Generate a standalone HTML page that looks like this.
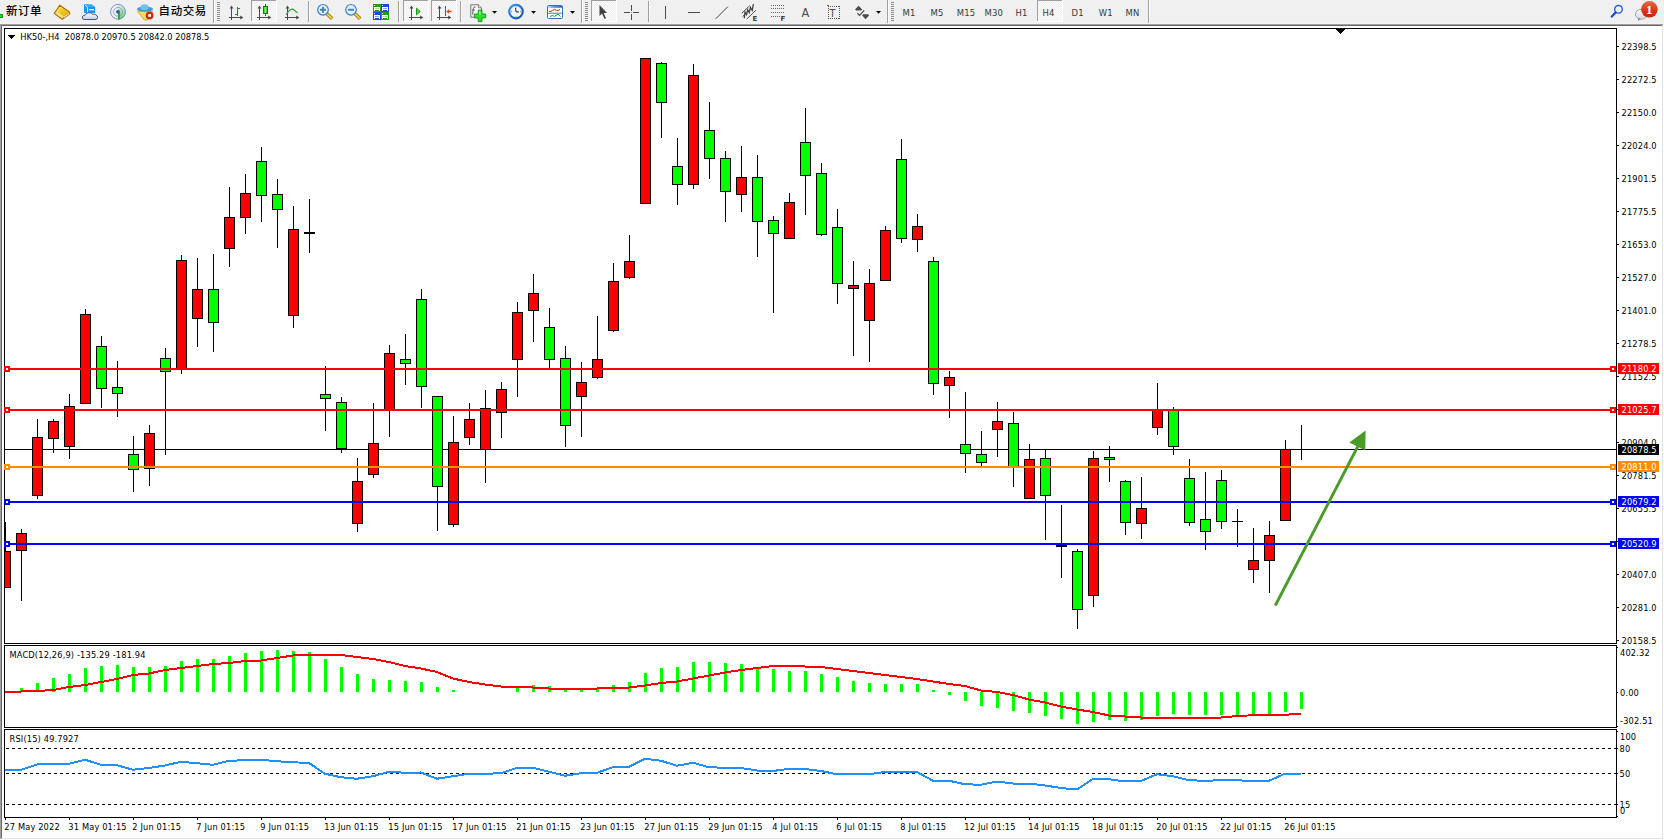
<!DOCTYPE html>
<html><head><meta charset="utf-8"><title>HK50-,H4</title>
<style>
html,body{margin:0;padding:0;}
body{width:1664px;height:840px;overflow:hidden;background:#f0f0f0;position:relative;font-family:"Liberation Sans",Arial,sans-serif;}
.cjk{position:absolute;top:2.7px;font-family:"Liberation Sans","Noto Sans CJK SC",sans-serif;font-size:11.5px;letter-spacing:0.55px;line-height:16px;color:#000;white-space:nowrap;font-weight:500;}
</style></head><body>
<svg width="1664" height="24" viewBox="0 0 1664 24" style="position:absolute;left:0;top:0" shape-rendering="crispEdges"><defs><pattern id="dith" width="2" height="2" patternUnits="userSpaceOnUse"><rect width="2" height="2" fill="#f0f0f0"/><rect width="1" height="1" fill="#fafafa"/><rect x="1" y="1" width="1" height="1" fill="#fafafa"/></pattern></defs><rect x="0" y="14" width="3" height="4" fill="#14a014"/><rect x="0" y="15" width="2" height="2" fill="#28d028"/><defs><linearGradient id="gbook" x1="0" y1="0" x2="1" y2="1"><stop offset="0" stop-color="#fff2a0"/><stop offset="0.45" stop-color="#f2c81c"/><stop offset="1" stop-color="#d89a08"/></linearGradient><linearGradient id="gcloud" x1="0" y1="0" x2="0" y2="1"><stop offset="0" stop-color="#ffffff"/><stop offset="1" stop-color="#c4cde0"/></linearGradient><linearGradient id="gsig" x1="0" y1="0" x2="0" y2="1"><stop offset="0" stop-color="#e4f0e4"/><stop offset="1" stop-color="#60c060"/></linearGradient></defs><g shape-rendering="auto"><polygon points="59.6,5.2 68.8,11.4 69.8,13.8 62.3,19.4 54.2,13.4 57.2,9" fill="url(#gbook)" stroke="#a86a0c" stroke-width="1.1" stroke-linejoin="round"/><polygon points="55.6,13.2 62.2,17.9 63.6,16.6 57.2,12" fill="#f8e4a0"/><polygon points="64.5,16.3 68.8,13 69.3,14 63.8,18" fill="#efe0b0"/></g><g shape-rendering="auto"><polygon points="84,4.5 91.5,4.5 95.2,7 95.2,13 84,13" fill="#1896f0"/><polygon points="84,4.5 91.5,4.5 95.2,7 87.5,7" fill="#3aaaf8"/><line x1="85" y1="5.2" x2="87.6" y2="7.2" stroke="#e8f6ff" stroke-width="0.9"/><line x1="87.6" y1="7.2" x2="87.6" y2="12.5" stroke="#e8f6ff" stroke-width="0.9"/><rect x="89.3" y="9" width="4.8" height="1.3" fill="#f0faff"/><path d="M84.2,19.5 Q82,19.4 82.3,17 Q82.8,15 85.2,15.2 Q86,12.6 89.5,12.7 Q91.6,12.8 92.6,14.3 Q94,13.6 95.4,14.6 Q97.8,15.6 97.6,17.6 Q97.4,19.5 95,19.5 Z" fill="url(#gcloud)" stroke="#3a5690" stroke-width="1"/></g><g shape-rendering="auto" fill="none"><path d="M118,4 A7.8,7.8 0 0 1 118,19.6 Z" fill="url(#gsig)" opacity="0.85"/><circle cx="118" cy="11.8" r="7.4" stroke="#4a78d0" stroke-width="1" opacity="0.75"/><circle cx="118" cy="11.8" r="4.4" stroke="#6a8cd4" stroke-width="1" opacity="0.7"/><circle cx="118" cy="11.8" r="1.9" fill="#2050c8"/><rect x="118.2" y="12" width="1.5" height="7.6" fill="#18a018"/></g><g shape-rendering="auto"><polygon points="137.5,11.2 152.5,11.2 147.5,20 144.5,20.2" fill="#f6dc58" stroke="#c9a022" stroke-width="0.8" stroke-linejoin="round"/><ellipse cx="145" cy="9.2" rx="8" ry="2.6" fill="#3b9ed4"/><ellipse cx="144.6" cy="7.2" rx="4.1" ry="3" fill="#72c2ea"/><circle cx="149.6" cy="15.5" r="3.9" fill="#d42c12"/><rect x="148.2" y="14.1" width="2.8" height="2.8" fill="#fff"/></g><rect x="213" y="0" width="1" height="23" fill="#a0a0a0"/><rect x="214" y="0" width="1" height="23" fill="#fff"/><rect x="217" y="2" width="3" height="1" fill="#8c8c8c"/><rect x="217" y="4" width="3" height="1" fill="#8c8c8c"/><rect x="217" y="6" width="3" height="1" fill="#8c8c8c"/><rect x="217" y="8" width="3" height="1" fill="#8c8c8c"/><rect x="217" y="10" width="3" height="1" fill="#8c8c8c"/><rect x="217" y="12" width="3" height="1" fill="#8c8c8c"/><rect x="217" y="14" width="3" height="1" fill="#8c8c8c"/><rect x="217" y="16" width="3" height="1" fill="#8c8c8c"/><rect x="217" y="18" width="3" height="1" fill="#8c8c8c"/><rect x="217" y="20" width="3" height="1" fill="#8c8c8c"/><rect x="231" y="7" width="1" height="13" fill="#4a4a4a"/><rect x="229" y="17" width="13" height="1" fill="#4a4a4a"/><g shape-rendering="auto" fill="#4a4a4a"><polygon points="229.6,8.6 231.5,5.6 233.4,8.6"/><polygon points="240.2,15.4 243.4,17.5 240.2,19.6"/></g><rect x="237" y="7" width="1" height="9" fill="#149014"/><rect x="238" y="8" width="2" height="1" fill="#149014"/><rect x="235" y="14" width="2" height="1" fill="#149014"/><rect x="251" y="0" width="26" height="22" fill="url(#dith)"/><rect x="251" y="0" width="26" height="1" fill="#a0a0a0"/><rect x="251" y="0" width="1" height="22" fill="#a0a0a0"/><rect x="276" y="0" width="1" height="22" fill="#fff"/><rect x="251" y="21" width="26" height="1" fill="#fff"/><rect x="259" y="7" width="1" height="13" fill="#4a4a4a"/><rect x="257" y="17" width="13" height="1" fill="#4a4a4a"/><g shape-rendering="auto" fill="#4a4a4a"><polygon points="257.6,8.6 259.5,5.6 261.4,8.6"/><polygon points="268.2,15.4 271.4,17.5 268.2,19.6"/></g><defs><linearGradient id="gcand" x1="0" y1="0" x2="1" y2="0"><stop offset="0" stop-color="#30d030"/><stop offset="0.5" stop-color="#80f080"/><stop offset="1" stop-color="#20c020"/></linearGradient></defs><rect x="265" y="4" width="1" height="12" fill="#0e800e"/><rect x="263" y="6" width="5" height="8" fill="#0e800e"/><rect x="264" y="7" width="3" height="6" fill="url(#gcand)"/><rect x="287" y="7" width="1" height="13" fill="#4a4a4a"/><rect x="285" y="17" width="13" height="1" fill="#4a4a4a"/><g shape-rendering="auto" fill="#4a4a4a"><polygon points="285.6,8.6 287.5,5.6 289.4,8.6"/><polygon points="296.2,15.4 299.4,17.5 296.2,19.6"/></g><path d="M286.2,14.6 Q289,10.2 291.2,9.3 Q292.8,8.6 294.5,10.4 Q296,12 297.6,12.8" fill="none" stroke="#2a9a2a" stroke-width="1.1" shape-rendering="auto"/><rect x="308" y="1" width="1" height="21" fill="#a0a0a0"/><rect x="309" y="1" width="1" height="21" fill="#fafafa"/><g shape-rendering="auto"><line x1="327" y1="13.8" x2="332.2" y2="18.8" stroke="#b07a10" stroke-width="3.6"/><line x1="327.2" y1="14.0" x2="331.8" y2="18.4" stroke="#f2da4a" stroke-width="1.6"/><circle cx="323" cy="9.8" r="5.3" fill="#def2fb" stroke="#3a7cc8" stroke-width="1.2"/><rect x="320" y="8.8" width="6" height="2" fill="#4a86b0"/><rect x="322" y="6.800000000000001" width="2" height="6" fill="#4a86b0"/></g><g shape-rendering="auto"><line x1="355" y1="13.8" x2="360.2" y2="18.8" stroke="#b07a10" stroke-width="3.6"/><line x1="355.2" y1="14.0" x2="359.8" y2="18.4" stroke="#f2da4a" stroke-width="1.6"/><circle cx="351" cy="9.8" r="5.3" fill="#def2fb" stroke="#3a7cc8" stroke-width="1.2"/><rect x="348" y="8.8" width="6" height="2" fill="#4a86b0"/></g><rect x="373" y="4" width="8" height="8" fill="#2a9a1a"/><rect x="374" y="5" width="1" height="1" fill="#e8f0ff"/><rect x="374" y="7" width="6" height="3" fill="#fff"/><rect x="375" y="8" width="4" height="1" fill="#a8d890"/><rect x="374" y="10" width="1" height="1" fill="#fff"/><rect x="379" y="10" width="1" height="1" fill="#fff"/><rect x="381" y="4" width="8" height="8" fill="#1a4ed0"/><rect x="382" y="5" width="1" height="1" fill="#e8f0ff"/><rect x="382" y="7" width="6" height="3" fill="#fff"/><rect x="383" y="8" width="4" height="1" fill="#8aa8e8"/><rect x="382" y="10" width="1" height="1" fill="#fff"/><rect x="387" y="10" width="1" height="1" fill="#fff"/><rect x="373" y="12" width="8" height="8" fill="#1a4ed0"/><rect x="374" y="13" width="1" height="1" fill="#e8f0ff"/><rect x="374" y="15" width="6" height="3" fill="#fff"/><rect x="375" y="16" width="4" height="1" fill="#8aa8e8"/><rect x="374" y="18" width="1" height="1" fill="#fff"/><rect x="379" y="18" width="1" height="1" fill="#fff"/><rect x="381" y="12" width="8" height="8" fill="#2a9a1a"/><rect x="382" y="13" width="1" height="1" fill="#e8f0ff"/><rect x="382" y="15" width="6" height="3" fill="#fff"/><rect x="383" y="16" width="4" height="1" fill="#a8d890"/><rect x="382" y="18" width="1" height="1" fill="#fff"/><rect x="387" y="18" width="1" height="1" fill="#fff"/><rect x="398" y="1" width="1" height="21" fill="#a0a0a0"/><rect x="399" y="1" width="1" height="21" fill="#fafafa"/><rect x="403" y="0" width="26" height="22" fill="url(#dith)"/><rect x="403" y="0" width="26" height="1" fill="#a0a0a0"/><rect x="403" y="0" width="1" height="22" fill="#a0a0a0"/><rect x="428" y="0" width="1" height="22" fill="#fff"/><rect x="403" y="21" width="26" height="1" fill="#fff"/><rect x="411" y="7" width="1" height="13" fill="#4a4a4a"/><rect x="409" y="17" width="13" height="1" fill="#4a4a4a"/><g shape-rendering="auto" fill="#4a4a4a"><polygon points="409.6,8.6 411.5,5.6 413.4,8.6"/><polygon points="420.2,15.4 423.4,17.5 420.2,19.6"/></g><polygon points="416.5,8.2 420.2,11.5 416.5,14.8" fill="#50d050" stroke="#10a010" stroke-width="1" shape-rendering="auto"/><rect x="431" y="0" width="26" height="22" fill="url(#dith)"/><rect x="431" y="0" width="26" height="1" fill="#a0a0a0"/><rect x="431" y="0" width="1" height="22" fill="#a0a0a0"/><rect x="456" y="0" width="1" height="22" fill="#fff"/><rect x="431" y="21" width="26" height="1" fill="#fff"/><rect x="439" y="7" width="1" height="13" fill="#4a4a4a"/><rect x="437" y="17" width="13" height="1" fill="#4a4a4a"/><g shape-rendering="auto" fill="#4a4a4a"><polygon points="437.6,8.6 439.5,5.6 441.4,8.6"/><polygon points="448.2,15.4 451.4,17.5 448.2,19.6"/></g><rect x="445" y="6" width="1.3" height="10" fill="#1a6aa8"/><polygon points="446.3,11.5 449.2,9 449,10.8 451.5,10.8 451.5,12.2 449,12.2 449.2,14" fill="#e04a10" shape-rendering="auto"/><rect x="460" y="1" width="1" height="21" fill="#a0a0a0"/><rect x="461" y="1" width="1" height="21" fill="#fafafa"/><g shape-rendering="auto"><path d="M470.8,4.8 L478.3,4.8 L481.4,7.8 L481.4,17.2 L470.8,17.2 Z" fill="#fdfdfd" stroke="#707070" stroke-width="1"/><path d="M478.3,4.8 L478.3,7.8 L481.4,7.8" fill="#e0e0e0" stroke="#707070" stroke-width="0.8"/><path d="M475.5,7 Q473.6,6.6 473.3,8.6 L472.6,14.6" fill="none" stroke="#404040" stroke-width="0.9"/><line x1="472.3" y1="10" x2="475" y2="10" stroke="#404040" stroke-width="0.8"/><path d="M478.2,10.2 h3.8 v3.8 h3.7 v3.9 h-3.7 v3.7 h-3.8 v-3.7 h-3.9 v-3.9 h3.9 z" fill="#2ee02e" stroke="#0a9a0a" stroke-width="0.9"/><rect x="479.2" y="11.2" width="1.4" height="3.5" fill="#90f890"/></g><polygon points="492,11 497,11 494.5,13.8" fill="#000" shape-rendering="auto"/><defs><radialGradient id="gclk" cx="0.4" cy="0.35" r="0.7"><stop offset="0" stop-color="#5ab0ff"/><stop offset="1" stop-color="#0a4eb0"/></radialGradient></defs><g shape-rendering="auto"><circle cx="516" cy="11.6" r="7.8" fill="url(#gclk)"/><circle cx="516" cy="11.6" r="5.6" fill="#f2f6fa"/><g fill="#777"><rect x="515.6" y="6.5" width="0.8" height="1"/><rect x="515.6" y="15.8" width="0.8" height="1"/><rect x="511" y="11.2" width="1" height="0.8"/><rect x="520" y="11.2" width="1" height="0.8"/></g><path d="M515.6,7.8 L516,11.8 L519,12" fill="none" stroke="#202020" stroke-width="1"/></g><polygon points="531,11 536,11 533.5,13.8" fill="#000" shape-rendering="auto"/><defs><linearGradient id="gtpl" x1="0" y1="0" x2="1" y2="0"><stop offset="0" stop-color="#b8dcff"/><stop offset="0.4" stop-color="#5a9ae0"/><stop offset="1" stop-color="#2a6ac8"/></linearGradient></defs><g shape-rendering="auto"><rect x="547.5" y="5.5" width="15" height="13" rx="1" fill="#fff" stroke="#3070c0" stroke-width="1"/><rect x="548" y="6" width="14" height="1.8" fill="url(#gtpl)"/><line x1="548" y1="13.2" x2="562" y2="13.2" stroke="#3070c0" stroke-width="0.9"/><polyline points="549,11.4 551,11.4 552.5,10.4 554.6,9.4 556.4,10.4 558.2,10.4 560.2,9.5" fill="none" stroke="#b02a10" stroke-width="1"/><polyline points="550,16.5 552.5,15.5 554.5,16.4 556,15.4 558,14.2 560.5,16.5" fill="none" stroke="#16a016" stroke-width="1"/></g><polygon points="570,11 575,11 572.5,13.8" fill="#000" shape-rendering="auto"/><rect x="581" y="0" width="1" height="23" fill="#a0a0a0"/><rect x="582" y="0" width="1" height="23" fill="#fff"/><rect x="585" y="2" width="3" height="1" fill="#8c8c8c"/><rect x="585" y="4" width="3" height="1" fill="#8c8c8c"/><rect x="585" y="6" width="3" height="1" fill="#8c8c8c"/><rect x="585" y="8" width="3" height="1" fill="#8c8c8c"/><rect x="585" y="10" width="3" height="1" fill="#8c8c8c"/><rect x="585" y="12" width="3" height="1" fill="#8c8c8c"/><rect x="585" y="14" width="3" height="1" fill="#8c8c8c"/><rect x="585" y="16" width="3" height="1" fill="#8c8c8c"/><rect x="585" y="18" width="3" height="1" fill="#8c8c8c"/><rect x="585" y="20" width="3" height="1" fill="#8c8c8c"/><rect x="591" y="0" width="26" height="22" fill="url(#dith)"/><rect x="591" y="0" width="26" height="1" fill="#a0a0a0"/><rect x="591" y="0" width="1" height="22" fill="#a0a0a0"/><rect x="616" y="0" width="1" height="22" fill="#fff"/><rect x="591" y="21" width="26" height="1" fill="#fff"/><polygon points="599.5,5 599.5,16 602,13.5 604.5,19 606,18.3 603.7,13 607,13" fill="#404040" shape-rendering="auto"/><rect x="631" y="5" width="1" height="6" fill="#4a4a4a"/><rect x="631" y="14" width="1" height="6" fill="#4a4a4a"/><rect x="624" y="12" width="6" height="1" fill="#4a4a4a"/><rect x="633" y="12" width="6" height="1" fill="#4a4a4a"/><rect x="631" y="12" width="1" height="1" fill="#9a9a8a"/><rect x="648" y="1" width="1" height="21" fill="#a0a0a0"/><rect x="649" y="1" width="1" height="21" fill="#fafafa"/><rect x="665" y="6" width="1" height="13" fill="#4a4a4a"/><rect x="688" y="12" width="12" height="1" fill="#4a4a4a"/><line x1="715.6" y1="18.9" x2="727.9" y2="6.6" stroke="#444" stroke-width="1" shape-rendering="auto"/><g shape-rendering="auto" stroke="#444" fill="none"><line x1="741.6" y1="13.4" x2="749.8" y2="5.6" stroke-width="0.9"/><line x1="746.8" y1="19" x2="756" y2="10.2" stroke-width="0.9"/><polyline points="744.3,18.2 745,12 746.6,14.6 747.6,9.6 749.2,12.6 750.4,7.4 752.2,10.4 753.4,4.2" stroke-width="1.3"/><line x1="742.6" y1="16.6" x2="745.6" y2="13.6" stroke-width="1"/></g><text x="752.6" y="20.8" font-size="7" font-weight="bold" fill="#404040" font-family="DejaVu Sans">E</text><rect x="771" y="5" width="1" height="1" fill="#666"/><rect x="773" y="5" width="1" height="1" fill="#666"/><rect x="775" y="5" width="1" height="1" fill="#666"/><rect x="777" y="5" width="1" height="1" fill="#666"/><rect x="779" y="5" width="1" height="1" fill="#666"/><rect x="781" y="5" width="1" height="1" fill="#666"/><rect x="783" y="5" width="1" height="1" fill="#666"/><rect x="771" y="8" width="1" height="1" fill="#666"/><rect x="773" y="8" width="1" height="1" fill="#666"/><rect x="775" y="8" width="1" height="1" fill="#666"/><rect x="777" y="8" width="1" height="1" fill="#666"/><rect x="779" y="8" width="1" height="1" fill="#666"/><rect x="781" y="8" width="1" height="1" fill="#666"/><rect x="783" y="8" width="1" height="1" fill="#666"/><rect x="771" y="12" width="1" height="1" fill="#666"/><rect x="773" y="12" width="1" height="1" fill="#666"/><rect x="775" y="12" width="1" height="1" fill="#666"/><rect x="777" y="12" width="1" height="1" fill="#666"/><rect x="779" y="12" width="1" height="1" fill="#666"/><rect x="781" y="12" width="1" height="1" fill="#666"/><rect x="783" y="12" width="1" height="1" fill="#666"/><rect x="771" y="16" width="1" height="1" fill="#666"/><rect x="773" y="16" width="1" height="1" fill="#666"/><rect x="775" y="16" width="1" height="1" fill="#666"/><rect x="777" y="16" width="1" height="1" fill="#666"/><rect x="779" y="16" width="1" height="1" fill="#666"/><text x="780.6" y="20.8" font-size="7" font-weight="bold" fill="#404040" font-family="DejaVu Sans">F</text><text x="801.4" y="17.2" font-size="12.6" fill="#4a4a4a" font-family="DejaVu Sans Condensed">A</text><rect x="828" y="6" width="1" height="1" fill="#555"/><rect x="828" y="18" width="1" height="1" fill="#555"/><rect x="830" y="6" width="1" height="1" fill="#555"/><rect x="830" y="18" width="1" height="1" fill="#555"/><rect x="832" y="6" width="1" height="1" fill="#555"/><rect x="832" y="18" width="1" height="1" fill="#555"/><rect x="834" y="6" width="1" height="1" fill="#555"/><rect x="834" y="18" width="1" height="1" fill="#555"/><rect x="836" y="6" width="1" height="1" fill="#555"/><rect x="836" y="18" width="1" height="1" fill="#555"/><rect x="838" y="6" width="1" height="1" fill="#555"/><rect x="838" y="18" width="1" height="1" fill="#555"/><rect x="828" y="6" width="1" height="1" fill="#555"/><rect x="839" y="6" width="1" height="1" fill="#555"/><rect x="828" y="8" width="1" height="1" fill="#555"/><rect x="839" y="8" width="1" height="1" fill="#555"/><rect x="828" y="10" width="1" height="1" fill="#555"/><rect x="839" y="10" width="1" height="1" fill="#555"/><rect x="828" y="12" width="1" height="1" fill="#555"/><rect x="839" y="12" width="1" height="1" fill="#555"/><rect x="828" y="14" width="1" height="1" fill="#555"/><rect x="839" y="14" width="1" height="1" fill="#555"/><rect x="828" y="16" width="1" height="1" fill="#555"/><rect x="839" y="16" width="1" height="1" fill="#555"/><rect x="828" y="18" width="1" height="1" fill="#555"/><rect x="839" y="18" width="1" height="1" fill="#555"/><text x="829.6" y="16.9" font-size="10.8" fill="#4a4a4a" font-family="DejaVu Sans Condensed">T</text><rect x="827" y="5" width="2" height="1" fill="#666"/><g shape-rendering="auto" fill="#4a4a4a"><polygon points="855,9.6 858.6,5.8 862.2,9.6 861,10.5 856.2,10.5"/><polygon points="862,15.2 863.2,14.2 868,14.2 869.2,15.2 865.6,19.2"/><path d="M857.4,13.2 L859.6,15.4 L864.2,10.4" fill="none" stroke="#4a4a4a" stroke-width="1.3"/></g><polygon points="876,11 881,11 878.5,13.8" fill="#000" shape-rendering="auto"/><rect x="887" y="0" width="1" height="23" fill="#a0a0a0"/><rect x="888" y="0" width="1" height="23" fill="#fff"/><rect x="891" y="2" width="3" height="1" fill="#8c8c8c"/><rect x="891" y="4" width="3" height="1" fill="#8c8c8c"/><rect x="891" y="6" width="3" height="1" fill="#8c8c8c"/><rect x="891" y="8" width="3" height="1" fill="#8c8c8c"/><rect x="891" y="10" width="3" height="1" fill="#8c8c8c"/><rect x="891" y="12" width="3" height="1" fill="#8c8c8c"/><rect x="891" y="14" width="3" height="1" fill="#8c8c8c"/><rect x="891" y="16" width="3" height="1" fill="#8c8c8c"/><rect x="891" y="18" width="3" height="1" fill="#8c8c8c"/><rect x="891" y="20" width="3" height="1" fill="#8c8c8c"/><rect x="1037" y="0" width="26" height="22" fill="url(#dith)"/><rect x="1037" y="0" width="26" height="1" fill="#a0a0a0"/><rect x="1037" y="0" width="1" height="22" fill="#a0a0a0"/><rect x="1062" y="0" width="1" height="22" fill="#fff"/><rect x="1037" y="21" width="26" height="1" fill="#fff"/><text x="902.5" y="16" font-size="9.4" fill="#383838" letter-spacing="0.15" font-family="DejaVu Sans Condensed">M1</text><text x="930.6" y="16" font-size="9.4" fill="#383838" letter-spacing="0.15" font-family="DejaVu Sans Condensed">M5</text><text x="956.8" y="16" font-size="9.4" fill="#383838" letter-spacing="0.15" font-family="DejaVu Sans Condensed">M15</text><text x="984.5" y="16" font-size="9.4" fill="#383838" letter-spacing="0.15" font-family="DejaVu Sans Condensed">M30</text><text x="1015.5" y="16" font-size="9.4" fill="#383838" letter-spacing="0.15" font-family="DejaVu Sans Condensed">H1</text><text x="1042.6" y="16" font-size="9.4" fill="#383838" letter-spacing="0.15" font-family="DejaVu Sans Condensed">H4</text><text x="1071.6" y="16" font-size="9.4" fill="#383838" letter-spacing="0.15" font-family="DejaVu Sans Condensed">D1</text><text x="1098.8" y="16" font-size="9.4" fill="#383838" letter-spacing="0.15" font-family="DejaVu Sans Condensed">W1</text><text x="1125.5" y="16" font-size="9.4" fill="#383838" letter-spacing="0.15" font-family="DejaVu Sans Condensed">MN</text><rect x="1148" y="0" width="1" height="23" fill="#a0a0a0"/><rect x="1149" y="0" width="1" height="23" fill="#fff"/><g shape-rendering="auto"><circle cx="1618.5" cy="9.3" r="3.8" fill="#f4f6ff" stroke="#2a5ad8" stroke-width="1.4"/><line x1="1615.6" y1="12.4" x2="1611.8" y2="16.6" stroke="#1e4cc8" stroke-width="2.2" stroke-linecap="round"/></g><defs><linearGradient id="gbadge" x1="0" y1="0" x2="0" y2="1"><stop offset="0" stop-color="#ec6a48"/><stop offset="0.5" stop-color="#dc3a1c"/><stop offset="1" stop-color="#cc2008"/></linearGradient><linearGradient id="gchat" x1="0" y1="0" x2="0" y2="1"><stop offset="0" stop-color="#ffffff"/><stop offset="1" stop-color="#d4d6e4"/></linearGradient></defs><g shape-rendering="auto"><ellipse cx="1641.3" cy="14.2" rx="5.8" ry="5" fill="url(#gchat)" stroke="#a4a4a4" stroke-width="1"/><polygon points="1637.8,18 1638.2,21.2 1641,18.6" fill="#8c8c8c"/><circle cx="1649.4" cy="9.3" r="8.3" fill="url(#gbadge)"/><text x="1649.2" y="14.1" font-size="13" font-weight="bold" fill="#fff" text-anchor="middle" font-family="Liberation Serif">1</text></g></svg>
<div class="cjk" style="left:6px">新订单</div>
<div class="cjk" style="left:158.6px">自动交易</div>
<svg width="1664" height="840" viewBox="0 0 1664 840" style="position:absolute;left:0;top:0" shape-rendering="crispEdges" font-family='"DejaVu Sans Condensed", "Liberation Sans", sans-serif'><rect x="0" y="24" width="1664" height="816" fill="#fff"/><rect x="0" y="23" width="1662" height="1" fill="#f4f4f4"/><rect x="0" y="24" width="1663" height="1" fill="#a0a0a0"/><rect x="0" y="24" width="1" height="815" fill="#a0a0a0"/><rect x="1" y="25" width="1661" height="1" fill="#696969"/><rect x="1" y="25" width="1" height="813" fill="#696969"/><rect x="1662" y="25" width="1" height="814" fill="#e3e3e3"/><rect x="1" y="838" width="1662" height="1" fill="#e3e3e3"/><rect x="1663" y="24" width="1" height="816" fill="#fff"/><rect x="0" y="839" width="1664" height="1" fill="#fff"/><defs><clipPath id="mc"><rect x="5" y="29" width="1611" height="614"/></clipPath></defs><g clip-path="url(#mc)"><rect x="5" y="449" width="1611" height="1" fill="#000"/><rect x="5" y="522" width="1" height="66" fill="#000"/><rect x="0" y="551" width="11" height="37" fill="#000"/><rect x="1" y="552" width="9" height="35" fill="#ff0000"/><rect x="21" y="529" width="1" height="72" fill="#000"/><rect x="16" y="533" width="11" height="18" fill="#000"/><rect x="17" y="534" width="9" height="16" fill="#ff0000"/><rect x="37" y="419" width="1" height="80" fill="#000"/><rect x="32" y="437" width="11" height="59" fill="#000"/><rect x="33" y="438" width="9" height="57" fill="#ff0000"/><rect x="53" y="419" width="1" height="34" fill="#000"/><rect x="48" y="421" width="11" height="18" fill="#000"/><rect x="49" y="422" width="9" height="16" fill="#ff0000"/><rect x="69" y="394" width="1" height="65" fill="#000"/><rect x="64" y="406" width="11" height="41" fill="#000"/><rect x="65" y="407" width="9" height="39" fill="#ff0000"/><rect x="85" y="309" width="1" height="95" fill="#000"/><rect x="80" y="314" width="11" height="90" fill="#000"/><rect x="81" y="315" width="9" height="88" fill="#ff0000"/><rect x="101" y="336" width="1" height="72" fill="#000"/><rect x="96" y="346" width="11" height="43" fill="#000"/><rect x="97" y="347" width="9" height="41" fill="#00ff00"/><rect x="117" y="361" width="1" height="56" fill="#000"/><rect x="112" y="387" width="11" height="7" fill="#000"/><rect x="113" y="388" width="9" height="5" fill="#00ff00"/><rect x="133" y="436" width="1" height="56" fill="#000"/><rect x="128" y="454" width="11" height="16" fill="#000"/><rect x="129" y="455" width="9" height="14" fill="#00ff00"/><rect x="149" y="425" width="1" height="61" fill="#000"/><rect x="144" y="433" width="11" height="36" fill="#000"/><rect x="145" y="434" width="9" height="34" fill="#ff0000"/><rect x="165" y="348" width="1" height="107" fill="#000"/><rect x="160" y="358" width="11" height="14" fill="#000"/><rect x="161" y="359" width="9" height="12" fill="#00ff00"/><rect x="181" y="255" width="1" height="119" fill="#000"/><rect x="176" y="260" width="11" height="110" fill="#000"/><rect x="177" y="261" width="9" height="108" fill="#ff0000"/><rect x="197" y="258" width="1" height="89" fill="#000"/><rect x="192" y="289" width="11" height="30" fill="#000"/><rect x="193" y="290" width="9" height="28" fill="#ff0000"/><rect x="213" y="254" width="1" height="98" fill="#000"/><rect x="208" y="289" width="11" height="34" fill="#000"/><rect x="209" y="290" width="9" height="32" fill="#00ff00"/><rect x="229" y="187" width="1" height="80" fill="#000"/><rect x="224" y="217" width="11" height="32" fill="#000"/><rect x="225" y="218" width="9" height="30" fill="#ff0000"/><rect x="245" y="174" width="1" height="60" fill="#000"/><rect x="240" y="193" width="11" height="25" fill="#000"/><rect x="241" y="194" width="9" height="23" fill="#ff0000"/><rect x="261" y="147" width="1" height="75" fill="#000"/><rect x="256" y="161" width="11" height="35" fill="#000"/><rect x="257" y="162" width="9" height="33" fill="#00ff00"/><rect x="277" y="179" width="1" height="69" fill="#000"/><rect x="272" y="194" width="11" height="16" fill="#000"/><rect x="273" y="195" width="9" height="14" fill="#00ff00"/><rect x="293" y="206" width="1" height="122" fill="#000"/><rect x="288" y="229" width="11" height="87" fill="#000"/><rect x="289" y="230" width="9" height="85" fill="#ff0000"/><rect x="309" y="199" width="1" height="54" fill="#000"/><rect x="304" y="232" width="11" height="2" fill="#000"/><rect x="325" y="366" width="1" height="65" fill="#000"/><rect x="320" y="394" width="11" height="5" fill="#000"/><rect x="321" y="395" width="9" height="3" fill="#00ff00"/><rect x="341" y="397" width="1" height="56" fill="#000"/><rect x="336" y="402" width="11" height="47" fill="#000"/><rect x="337" y="403" width="9" height="45" fill="#00ff00"/><rect x="357" y="458" width="1" height="74" fill="#000"/><rect x="352" y="481" width="11" height="43" fill="#000"/><rect x="353" y="482" width="9" height="41" fill="#ff0000"/><rect x="373" y="403" width="1" height="75" fill="#000"/><rect x="368" y="443" width="11" height="32" fill="#000"/><rect x="369" y="444" width="9" height="30" fill="#ff0000"/><rect x="389" y="345" width="1" height="92" fill="#000"/><rect x="384" y="353" width="11" height="57" fill="#000"/><rect x="385" y="354" width="9" height="55" fill="#ff0000"/><rect x="405" y="334" width="1" height="51" fill="#000"/><rect x="400" y="359" width="11" height="5" fill="#000"/><rect x="401" y="360" width="9" height="3" fill="#00ff00"/><rect x="421" y="289" width="1" height="119" fill="#000"/><rect x="416" y="299" width="11" height="88" fill="#000"/><rect x="417" y="300" width="9" height="86" fill="#00ff00"/><rect x="437" y="396" width="1" height="135" fill="#000"/><rect x="432" y="396" width="11" height="91" fill="#000"/><rect x="433" y="397" width="9" height="89" fill="#00ff00"/><rect x="453" y="416" width="1" height="111" fill="#000"/><rect x="448" y="442" width="11" height="83" fill="#000"/><rect x="449" y="443" width="9" height="81" fill="#ff0000"/><rect x="469" y="403" width="1" height="42" fill="#000"/><rect x="464" y="419" width="11" height="19" fill="#000"/><rect x="465" y="420" width="9" height="17" fill="#ff0000"/><rect x="485" y="390" width="1" height="93" fill="#000"/><rect x="480" y="408" width="11" height="42" fill="#000"/><rect x="481" y="409" width="9" height="40" fill="#ff0000"/><rect x="501" y="382" width="1" height="56" fill="#000"/><rect x="496" y="389" width="11" height="24" fill="#000"/><rect x="497" y="390" width="9" height="22" fill="#ff0000"/><rect x="517" y="302" width="1" height="95" fill="#000"/><rect x="512" y="312" width="11" height="48" fill="#000"/><rect x="513" y="313" width="9" height="46" fill="#ff0000"/><rect x="533" y="274" width="1" height="68" fill="#000"/><rect x="528" y="293" width="11" height="18" fill="#000"/><rect x="529" y="294" width="9" height="16" fill="#ff0000"/><rect x="549" y="308" width="1" height="60" fill="#000"/><rect x="544" y="327" width="11" height="33" fill="#000"/><rect x="545" y="328" width="9" height="31" fill="#00ff00"/><rect x="565" y="346" width="1" height="101" fill="#000"/><rect x="560" y="358" width="11" height="68" fill="#000"/><rect x="561" y="359" width="9" height="66" fill="#00ff00"/><rect x="581" y="362" width="1" height="75" fill="#000"/><rect x="576" y="382" width="11" height="15" fill="#000"/><rect x="577" y="383" width="9" height="13" fill="#ff0000"/><rect x="597" y="316" width="1" height="63" fill="#000"/><rect x="592" y="359" width="11" height="19" fill="#000"/><rect x="593" y="360" width="9" height="17" fill="#ff0000"/><rect x="613" y="263" width="1" height="69" fill="#000"/><rect x="608" y="281" width="11" height="50" fill="#000"/><rect x="609" y="282" width="9" height="48" fill="#ff0000"/><rect x="629" y="235" width="1" height="44" fill="#000"/><rect x="624" y="261" width="11" height="17" fill="#000"/><rect x="625" y="262" width="9" height="15" fill="#ff0000"/><rect x="645" y="58" width="1" height="146" fill="#000"/><rect x="640" y="58" width="11" height="146" fill="#000"/><rect x="641" y="59" width="9" height="144" fill="#ff0000"/><rect x="661" y="62" width="1" height="76" fill="#000"/><rect x="656" y="63" width="11" height="40" fill="#000"/><rect x="657" y="64" width="9" height="38" fill="#00ff00"/><rect x="677" y="138" width="1" height="67" fill="#000"/><rect x="672" y="166" width="11" height="19" fill="#000"/><rect x="673" y="167" width="9" height="17" fill="#00ff00"/><rect x="693" y="64" width="1" height="125" fill="#000"/><rect x="688" y="75" width="11" height="110" fill="#000"/><rect x="689" y="76" width="9" height="108" fill="#ff0000"/><rect x="709" y="102" width="1" height="77" fill="#000"/><rect x="704" y="130" width="11" height="29" fill="#000"/><rect x="705" y="131" width="9" height="27" fill="#00ff00"/><rect x="725" y="151" width="1" height="71" fill="#000"/><rect x="720" y="158" width="11" height="34" fill="#000"/><rect x="721" y="159" width="9" height="32" fill="#00ff00"/><rect x="741" y="146" width="1" height="66" fill="#000"/><rect x="736" y="177" width="11" height="18" fill="#000"/><rect x="737" y="178" width="9" height="16" fill="#ff0000"/><rect x="757" y="155" width="1" height="102" fill="#000"/><rect x="752" y="177" width="11" height="45" fill="#000"/><rect x="753" y="178" width="9" height="43" fill="#00ff00"/><rect x="773" y="216" width="1" height="97" fill="#000"/><rect x="768" y="220" width="11" height="14" fill="#000"/><rect x="769" y="221" width="9" height="12" fill="#00ff00"/><rect x="789" y="193" width="1" height="46" fill="#000"/><rect x="784" y="202" width="11" height="37" fill="#000"/><rect x="785" y="203" width="9" height="35" fill="#ff0000"/><rect x="805" y="108" width="1" height="107" fill="#000"/><rect x="800" y="142" width="11" height="34" fill="#000"/><rect x="801" y="143" width="9" height="32" fill="#00ff00"/><rect x="821" y="163" width="1" height="73" fill="#000"/><rect x="816" y="173" width="11" height="62" fill="#000"/><rect x="817" y="174" width="9" height="60" fill="#00ff00"/><rect x="837" y="209" width="1" height="95" fill="#000"/><rect x="832" y="227" width="11" height="57" fill="#000"/><rect x="833" y="228" width="9" height="55" fill="#00ff00"/><rect x="853" y="261" width="1" height="95" fill="#000"/><rect x="848" y="285" width="11" height="4" fill="#000"/><rect x="849" y="286" width="9" height="2" fill="#ff0000"/><rect x="869" y="269" width="1" height="93" fill="#000"/><rect x="864" y="283" width="11" height="38" fill="#000"/><rect x="865" y="284" width="9" height="36" fill="#ff0000"/><rect x="885" y="226" width="1" height="55" fill="#000"/><rect x="880" y="230" width="11" height="51" fill="#000"/><rect x="881" y="231" width="9" height="49" fill="#ff0000"/><rect x="901" y="139" width="1" height="104" fill="#000"/><rect x="896" y="159" width="11" height="80" fill="#000"/><rect x="897" y="160" width="9" height="78" fill="#00ff00"/><rect x="917" y="214" width="1" height="38" fill="#000"/><rect x="912" y="226" width="11" height="14" fill="#000"/><rect x="913" y="227" width="9" height="12" fill="#ff0000"/><rect x="933" y="257" width="1" height="138" fill="#000"/><rect x="928" y="261" width="11" height="123" fill="#000"/><rect x="929" y="262" width="9" height="121" fill="#00ff00"/><rect x="949" y="371" width="1" height="47" fill="#000"/><rect x="944" y="377" width="11" height="9" fill="#000"/><rect x="945" y="378" width="9" height="7" fill="#ff0000"/><rect x="965" y="392" width="1" height="81" fill="#000"/><rect x="960" y="444" width="11" height="10" fill="#000"/><rect x="961" y="445" width="9" height="8" fill="#00ff00"/><rect x="981" y="431" width="1" height="35" fill="#000"/><rect x="976" y="454" width="11" height="9" fill="#000"/><rect x="977" y="455" width="9" height="7" fill="#00ff00"/><rect x="997" y="402" width="1" height="55" fill="#000"/><rect x="992" y="421" width="11" height="9" fill="#000"/><rect x="993" y="422" width="9" height="7" fill="#ff0000"/><rect x="1013" y="412" width="1" height="75" fill="#000"/><rect x="1008" y="423" width="11" height="44" fill="#000"/><rect x="1009" y="424" width="9" height="42" fill="#00ff00"/><rect x="1029" y="444" width="1" height="55" fill="#000"/><rect x="1024" y="459" width="11" height="40" fill="#000"/><rect x="1025" y="460" width="9" height="38" fill="#ff0000"/><rect x="1045" y="450" width="1" height="90" fill="#000"/><rect x="1040" y="458" width="11" height="38" fill="#000"/><rect x="1041" y="459" width="9" height="36" fill="#00ff00"/><rect x="1061" y="505" width="1" height="73" fill="#000"/><rect x="1056" y="545" width="11" height="2" fill="#000"/><rect x="1077" y="549" width="1" height="80" fill="#000"/><rect x="1072" y="551" width="11" height="59" fill="#000"/><rect x="1073" y="552" width="9" height="57" fill="#00ff00"/><rect x="1093" y="451" width="1" height="156" fill="#000"/><rect x="1088" y="458" width="11" height="138" fill="#000"/><rect x="1089" y="459" width="9" height="136" fill="#ff0000"/><rect x="1109" y="446" width="1" height="36" fill="#000"/><rect x="1104" y="457" width="11" height="3" fill="#000"/><rect x="1105" y="458" width="9" height="1" fill="#00ff00"/><rect x="1125" y="480" width="1" height="55" fill="#000"/><rect x="1120" y="481" width="11" height="42" fill="#000"/><rect x="1121" y="482" width="9" height="40" fill="#00ff00"/><rect x="1141" y="477" width="1" height="62" fill="#000"/><rect x="1136" y="508" width="11" height="16" fill="#000"/><rect x="1137" y="509" width="9" height="14" fill="#ff0000"/><rect x="1157" y="383" width="1" height="52" fill="#000"/><rect x="1152" y="410" width="11" height="18" fill="#000"/><rect x="1153" y="411" width="9" height="16" fill="#ff0000"/><rect x="1173" y="407" width="1" height="48" fill="#000"/><rect x="1168" y="410" width="11" height="37" fill="#000"/><rect x="1169" y="411" width="9" height="35" fill="#00ff00"/><rect x="1189" y="459" width="1" height="67" fill="#000"/><rect x="1184" y="478" width="11" height="45" fill="#000"/><rect x="1185" y="479" width="9" height="43" fill="#00ff00"/><rect x="1205" y="472" width="1" height="78" fill="#000"/><rect x="1200" y="519" width="11" height="13" fill="#000"/><rect x="1201" y="520" width="9" height="11" fill="#00ff00"/><rect x="1221" y="470" width="1" height="59" fill="#000"/><rect x="1216" y="480" width="11" height="42" fill="#000"/><rect x="1217" y="481" width="9" height="40" fill="#00ff00"/><rect x="1237" y="509" width="1" height="38" fill="#000"/><rect x="1232" y="521" width="11" height="1" fill="#000"/><rect x="1253" y="528" width="1" height="55" fill="#000"/><rect x="1248" y="560" width="11" height="10" fill="#000"/><rect x="1249" y="561" width="9" height="8" fill="#ff0000"/><rect x="1269" y="521" width="1" height="72" fill="#000"/><rect x="1264" y="535" width="11" height="26" fill="#000"/><rect x="1265" y="536" width="9" height="24" fill="#ff0000"/><rect x="1285" y="440" width="1" height="81" fill="#000"/><rect x="1280" y="449" width="11" height="72" fill="#000"/><rect x="1281" y="450" width="9" height="70" fill="#ff0000"/><rect x="1301" y="425" width="1" height="35" fill="#000"/><rect x="1296" y="449" width="11" height="1" fill="#000"/><rect x="10" y="368" width="1600" height="2" fill="#ff0000"/><rect x="10" y="409" width="1600" height="2" fill="#ff0000"/><rect x="10" y="466" width="1600" height="2" fill="#ff8c00"/><rect x="10" y="501" width="1600" height="2" fill="#0000ff"/><rect x="10" y="543" width="1600" height="2" fill="#0000ff"/><g shape-rendering="auto"><line x1="1275.3" y1="605.5" x2="1358" y2="446" stroke="#4b9b2b" stroke-width="2.9"/><polygon points="1365.6,430.6 1349.3,442.6 1365.3,450.6" fill="#4b9b2b"/></g></g><rect x="4" y="28" width="1613" height="1" fill="#000"/><rect x="4" y="643" width="1613" height="1" fill="#000"/><rect x="4" y="28" width="1" height="616" fill="#000"/><rect x="1616" y="28" width="1" height="616" fill="#000"/><rect x="4" y="366" width="6" height="6" fill="#ff0000"/><rect x="6" y="368" width="2" height="2" fill="#fff"/><rect x="1610" y="366" width="6" height="6" fill="#ff0000"/><rect x="1612" y="368" width="2" height="2" fill="#fff"/><rect x="4" y="407" width="6" height="6" fill="#ff0000"/><rect x="6" y="409" width="2" height="2" fill="#fff"/><rect x="1610" y="407" width="6" height="6" fill="#ff0000"/><rect x="1612" y="409" width="2" height="2" fill="#fff"/><rect x="4" y="464" width="6" height="6" fill="#ff8c00"/><rect x="6" y="466" width="2" height="2" fill="#fff"/><rect x="1610" y="464" width="6" height="6" fill="#ff8c00"/><rect x="1612" y="466" width="2" height="2" fill="#fff"/><rect x="4" y="499" width="6" height="6" fill="#0000ff"/><rect x="6" y="501" width="2" height="2" fill="#fff"/><rect x="1610" y="499" width="6" height="6" fill="#0000ff"/><rect x="1612" y="501" width="2" height="2" fill="#fff"/><rect x="4" y="541" width="6" height="6" fill="#0000ff"/><rect x="6" y="543" width="2" height="2" fill="#fff"/><rect x="1610" y="541" width="6" height="6" fill="#0000ff"/><rect x="1612" y="543" width="2" height="2" fill="#fff"/><rect x="4" y="645" width="1613" height="1" fill="#000"/><rect x="4" y="727" width="1613" height="1" fill="#000"/><rect x="4" y="645" width="1" height="83" fill="#000"/><rect x="1616" y="645" width="1" height="83" fill="#000"/><rect x="4" y="729" width="1613" height="1" fill="#000"/><rect x="4" y="817" width="1613" height="1" fill="#000"/><rect x="4" y="729" width="1" height="89" fill="#000"/><rect x="1616" y="729" width="1" height="89" fill="#000"/><polygon points="1335.5,28.5 1345.5,28.5 1340.5,34" fill="#000"/><polygon points="8,35 15,35 11.5,38.8" fill="#000"/><rect x="1617" y="46" width="2" height="1" fill="#000"/><rect x="1617" y="79" width="2" height="1" fill="#000"/><rect x="1617" y="112" width="2" height="1" fill="#000"/><rect x="1617" y="145" width="2" height="1" fill="#000"/><rect x="1617" y="178" width="2" height="1" fill="#000"/><rect x="1617" y="211" width="2" height="1" fill="#000"/><rect x="1617" y="244" width="2" height="1" fill="#000"/><rect x="1617" y="277" width="2" height="1" fill="#000"/><rect x="1617" y="310" width="2" height="1" fill="#000"/><rect x="1617" y="343" width="2" height="1" fill="#000"/><rect x="1617" y="376" width="2" height="1" fill="#000"/><rect x="1617" y="409" width="2" height="1" fill="#000"/><rect x="1617" y="442" width="2" height="1" fill="#000"/><rect x="1617" y="475" width="2" height="1" fill="#000"/><rect x="1617" y="508" width="2" height="1" fill="#000"/><rect x="1617" y="541" width="2" height="1" fill="#000"/><rect x="1617" y="574" width="2" height="1" fill="#000"/><rect x="1617" y="607" width="2" height="1" fill="#000"/><rect x="1617" y="640" width="2" height="1" fill="#000"/><g><rect x="20" y="688" width="3" height="4" fill="#00ff00"/><rect x="36" y="683" width="3" height="9" fill="#00ff00"/><rect x="52" y="678" width="3" height="14" fill="#00ff00"/><rect x="68" y="674" width="3" height="18" fill="#00ff00"/><rect x="84" y="668" width="3" height="24" fill="#00ff00"/><rect x="100" y="666" width="3" height="26" fill="#00ff00"/><rect x="116" y="665" width="3" height="27" fill="#00ff00"/><rect x="132" y="667" width="3" height="25" fill="#00ff00"/><rect x="148" y="667" width="3" height="25" fill="#00ff00"/><rect x="164" y="666" width="3" height="26" fill="#00ff00"/><rect x="180" y="661" width="3" height="31" fill="#00ff00"/><rect x="196" y="659" width="3" height="33" fill="#00ff00"/><rect x="212" y="659" width="3" height="33" fill="#00ff00"/><rect x="228" y="656" width="3" height="36" fill="#00ff00"/><rect x="244" y="653" width="3" height="39" fill="#00ff00"/><rect x="260" y="651" width="3" height="41" fill="#00ff00"/><rect x="276" y="650" width="3" height="42" fill="#00ff00"/><rect x="292" y="651" width="3" height="41" fill="#00ff00"/><rect x="308" y="652" width="3" height="40" fill="#00ff00"/><rect x="324" y="659" width="3" height="33" fill="#00ff00"/><rect x="340" y="667" width="3" height="25" fill="#00ff00"/><rect x="356" y="674" width="3" height="18" fill="#00ff00"/><rect x="372" y="679" width="3" height="13" fill="#00ff00"/><rect x="388" y="680" width="3" height="12" fill="#00ff00"/><rect x="404" y="681" width="3" height="11" fill="#00ff00"/><rect x="420" y="682" width="3" height="10" fill="#00ff00"/><rect x="436" y="687" width="3" height="5" fill="#00ff00"/><rect x="452" y="690" width="3" height="2" fill="#00ff00"/><rect x="516" y="688" width="3" height="4" fill="#00ff00"/><rect x="532" y="685" width="3" height="7" fill="#00ff00"/><rect x="548" y="686" width="3" height="6" fill="#00ff00"/><rect x="564" y="689" width="3" height="3" fill="#00ff00"/><rect x="580" y="689" width="3" height="3" fill="#00ff00"/><rect x="596" y="689" width="3" height="3" fill="#00ff00"/><rect x="612" y="685" width="3" height="7" fill="#00ff00"/><rect x="628" y="682" width="3" height="10" fill="#00ff00"/><rect x="644" y="673" width="3" height="19" fill="#00ff00"/><rect x="660" y="668" width="3" height="24" fill="#00ff00"/><rect x="676" y="667" width="3" height="25" fill="#00ff00"/><rect x="692" y="662" width="3" height="30" fill="#00ff00"/><rect x="708" y="662" width="3" height="30" fill="#00ff00"/><rect x="724" y="663" width="3" height="29" fill="#00ff00"/><rect x="740" y="664" width="3" height="28" fill="#00ff00"/><rect x="756" y="667" width="3" height="25" fill="#00ff00"/><rect x="772" y="669" width="3" height="23" fill="#00ff00"/><rect x="788" y="671" width="3" height="21" fill="#00ff00"/><rect x="804" y="671" width="3" height="21" fill="#00ff00"/><rect x="820" y="674" width="3" height="18" fill="#00ff00"/><rect x="836" y="677" width="3" height="15" fill="#00ff00"/><rect x="852" y="681" width="3" height="11" fill="#00ff00"/><rect x="868" y="683" width="3" height="9" fill="#00ff00"/><rect x="884" y="684" width="3" height="8" fill="#00ff00"/><rect x="900" y="684" width="3" height="8" fill="#00ff00"/><rect x="916" y="684" width="3" height="8" fill="#00ff00"/><rect x="932" y="690" width="3" height="2" fill="#00ff00"/><rect x="948" y="692" width="3" height="3" fill="#00ff00"/><rect x="964" y="692" width="3" height="9" fill="#00ff00"/><rect x="980" y="692" width="3" height="14" fill="#00ff00"/><rect x="996" y="692" width="3" height="16" fill="#00ff00"/><rect x="1012" y="692" width="3" height="19" fill="#00ff00"/><rect x="1028" y="692" width="3" height="21" fill="#00ff00"/><rect x="1044" y="692" width="3" height="24" fill="#00ff00"/><rect x="1060" y="692" width="3" height="27" fill="#00ff00"/><rect x="1076" y="692" width="3" height="32" fill="#00ff00"/><rect x="1092" y="692" width="3" height="30" fill="#00ff00"/><rect x="1108" y="692" width="3" height="28" fill="#00ff00"/><rect x="1124" y="692" width="3" height="29" fill="#00ff00"/><rect x="1140" y="692" width="3" height="28" fill="#00ff00"/><rect x="1156" y="692" width="3" height="24" fill="#00ff00"/><rect x="1172" y="692" width="3" height="22" fill="#00ff00"/><rect x="1188" y="692" width="3" height="23" fill="#00ff00"/><rect x="1204" y="692" width="3" height="23" fill="#00ff00"/><rect x="1220" y="692" width="3" height="23" fill="#00ff00"/><rect x="1236" y="692" width="3" height="23" fill="#00ff00"/><rect x="1252" y="692" width="3" height="23" fill="#00ff00"/><rect x="1268" y="692" width="3" height="22" fill="#00ff00"/><rect x="1284" y="692" width="3" height="20" fill="#00ff00"/><rect x="1300" y="692" width="3" height="17" fill="#00ff00"/></g><polyline points="5,691.5 21,691.5 37,691 53,690 69,687 85,685 101,682 117,679 133,675 149,673.5 165,670 181,668 197,666 213,664 229,663 245,661 261,660.5 277,658 293,655.5 309,655 325,655 341,655 357,657 373,659 389,662 405,666 421,668.5 437,672 453,678.5 469,682 485,684.5 501,686.5 517,687 533,687.5 549,688.5 565,688.5 581,688.5 597,688.5 613,688 629,687.5 645,685.5 661,683 677,681.5 693,678.5 709,675.5 725,672.5 741,670 757,668 773,666 789,666 805,666.5 821,667 837,669 853,671 869,673 885,675 901,677 917,679 933,681.5 949,684 965,686 981,690.5 997,692 1013,695 1029,699.5 1045,702.5 1061,706.5 1077,709.5 1093,712 1109,715.5 1125,716.5 1141,717.5 1157,717.5 1173,717.5 1189,717.5 1205,717.5 1221,717.5 1237,716 1253,715.25 1269,714.75 1285,714.75 1301,713.75" fill="none" stroke="#ff0000" stroke-width="2" shape-rendering="crispEdges"/><rect x="1617" y="647" width="1" height="1" fill="#000"/><rect x="1617" y="692" width="1" height="1" fill="#000"/><rect x="1617" y="726" width="1" height="1" fill="#000"/><line x1="6" y1="748.5" x2="1616" y2="748.5" stroke="#000" stroke-width="1" stroke-dasharray="3 3"/><line x1="6" y1="773.5" x2="1616" y2="773.5" stroke="#000" stroke-width="1" stroke-dasharray="3 3"/><line x1="6" y1="804.5" x2="1616" y2="804.5" stroke="#000" stroke-width="1" stroke-dasharray="3 3"/><polyline points="5,769.75 21,769.75 37,764.5 53,763.75 69,763.75 85,759.75 101,764.75 117,765.25 133,769.75 149,768 165,765.5 181,761.75 197,763.25 213,764.75 229,760.75 245,760.25 261,759.75 277,761.25 293,762.25 309,763 325,773.75 341,777.25 357,778.75 373,776.25 389,771.75 405,772.75 421,772.5 437,778.75 453,776.25 469,773.75 485,773.75 501,773.25 517,767.75 533,767.75 549,771.75 565,775.75 581,773.25 597,772.75 613,767.25 629,766.75 645,758.75 661,760.75 677,765.75 693,762.75 709,767.25 725,767.75 741,768 757,770.5 773,771 789,768.75 805,769 821,771 837,774.25 853,774.25 869,774.25 885,772 901,772 917,772 933,780.75 949,780.75 965,784.25 981,784.75 997,781.5 1013,783.5 1029,783.5 1045,785.5 1061,788 1077,789.5 1093,778.75 1109,779.25 1125,781.5 1141,781 1157,774.25 1173,776.25 1189,780.25 1205,780.75 1221,780.25 1237,780 1253,781.5 1269,780.75 1285,773.75 1301,773.75" fill="none" stroke="#1e90ff" stroke-width="2" shape-rendering="crispEdges"/><rect x="1617" y="731" width="1" height="1" fill="#000"/><rect x="1617" y="748" width="1" height="1" fill="#000"/><rect x="1617" y="773" width="1" height="1" fill="#000"/><rect x="1617" y="804" width="1" height="1" fill="#000"/><rect x="1617" y="816" width="1" height="1" fill="#000"/><rect x="5" y="818" width="1" height="2" fill="#000"/><rect x="69" y="818" width="1" height="2" fill="#000"/><rect x="133" y="818" width="1" height="2" fill="#000"/><rect x="197" y="818" width="1" height="2" fill="#000"/><rect x="261" y="818" width="1" height="2" fill="#000"/><rect x="325" y="818" width="1" height="2" fill="#000"/><rect x="389" y="818" width="1" height="2" fill="#000"/><rect x="453" y="818" width="1" height="2" fill="#000"/><rect x="517" y="818" width="1" height="2" fill="#000"/><rect x="581" y="818" width="1" height="2" fill="#000"/><rect x="645" y="818" width="1" height="2" fill="#000"/><rect x="709" y="818" width="1" height="2" fill="#000"/><rect x="773" y="818" width="1" height="2" fill="#000"/><rect x="837" y="818" width="1" height="2" fill="#000"/><rect x="901" y="818" width="1" height="2" fill="#000"/><rect x="965" y="818" width="1" height="2" fill="#000"/><rect x="1029" y="818" width="1" height="2" fill="#000"/><rect x="1093" y="818" width="1" height="2" fill="#000"/><rect x="1157" y="818" width="1" height="2" fill="#000"/><rect x="1221" y="818" width="1" height="2" fill="#000"/><rect x="1285" y="818" width="1" height="2" fill="#000"/><g shape-rendering="auto"><text transform="translate(1621.5,50) scale(1,1.0)" fill="#000" text-anchor="start" font-size="9.2" letter-spacing="0.15" >22398.5</text><text transform="translate(1621.5,83) scale(1,1.0)" fill="#000" text-anchor="start" font-size="9.2" letter-spacing="0.15" >22272.5</text><text transform="translate(1621.5,116) scale(1,1.0)" fill="#000" text-anchor="start" font-size="9.2" letter-spacing="0.15" >22150.0</text><text transform="translate(1621.5,149) scale(1,1.0)" fill="#000" text-anchor="start" font-size="9.2" letter-spacing="0.15" >22024.0</text><text transform="translate(1621.5,182) scale(1,1.0)" fill="#000" text-anchor="start" font-size="9.2" letter-spacing="0.15" >21901.5</text><text transform="translate(1621.5,215) scale(1,1.0)" fill="#000" text-anchor="start" font-size="9.2" letter-spacing="0.15" >21775.5</text><text transform="translate(1621.5,248) scale(1,1.0)" fill="#000" text-anchor="start" font-size="9.2" letter-spacing="0.15" >21653.0</text><text transform="translate(1621.5,281) scale(1,1.0)" fill="#000" text-anchor="start" font-size="9.2" letter-spacing="0.15" >21527.0</text><text transform="translate(1621.5,314) scale(1,1.0)" fill="#000" text-anchor="start" font-size="9.2" letter-spacing="0.15" >21401.0</text><text transform="translate(1621.5,347) scale(1,1.0)" fill="#000" text-anchor="start" font-size="9.2" letter-spacing="0.15" >21278.5</text><text transform="translate(1621.5,380) scale(1,1.0)" fill="#000" text-anchor="start" font-size="9.2" letter-spacing="0.15" >21152.5</text><text transform="translate(1621.5,413) scale(1,1.0)" fill="#000" text-anchor="start" font-size="9.2" letter-spacing="0.15" >21025.5</text><text transform="translate(1621.5,446) scale(1,1.0)" fill="#000" text-anchor="start" font-size="9.2" letter-spacing="0.15" >20904.0</text><text transform="translate(1621.5,479) scale(1,1.0)" fill="#000" text-anchor="start" font-size="9.2" letter-spacing="0.15" >20781.5</text><text transform="translate(1621.5,512) scale(1,1.0)" fill="#000" text-anchor="start" font-size="9.2" letter-spacing="0.15" >20655.5</text><text transform="translate(1621.5,545) scale(1,1.0)" fill="#000" text-anchor="start" font-size="9.2" letter-spacing="0.15" >20529.5</text><text transform="translate(1621.5,578) scale(1,1.0)" fill="#000" text-anchor="start" font-size="9.2" letter-spacing="0.15" >20407.0</text><text transform="translate(1621.5,611) scale(1,1.0)" fill="#000" text-anchor="start" font-size="9.2" letter-spacing="0.15" >20281.0</text><text transform="translate(1621.5,644) scale(1,1.0)" fill="#000" text-anchor="start" font-size="9.2" letter-spacing="0.15" >20158.5</text><text transform="translate(9.5,658) scale(1,1.0)" fill="#000" text-anchor="start" font-size="9.2" letter-spacing="0.15" >MACD(12,26,9) -135.29 -181.94</text><text transform="translate(1620,656) scale(1,1.0)" fill="#000" text-anchor="start" font-size="9.2" letter-spacing="0.15" >402.32</text><text transform="translate(1620,696) scale(1,1.0)" fill="#000" text-anchor="start" font-size="9.2" letter-spacing="0.15" >0.00</text><text transform="translate(1620,724) scale(1,1.0)" fill="#000" text-anchor="start" font-size="9.2" letter-spacing="0.15" >-302.51</text><text transform="translate(9.5,742) scale(1,1.0)" fill="#000" text-anchor="start" font-size="9.2" letter-spacing="0.15" >RSI(15) 49.7927</text><text transform="translate(1620,740) scale(1,1.0)" fill="#000" text-anchor="start" font-size="9.2" letter-spacing="0.15" >100</text><text transform="translate(1619.5,752) scale(1,1.0)" fill="#000" text-anchor="start" font-size="9.2" letter-spacing="0.15" >80</text><text transform="translate(1619.5,777) scale(1,1.0)" fill="#000" text-anchor="start" font-size="9.2" letter-spacing="0.15" >50</text><text transform="translate(1619.5,808) scale(1,1.0)" fill="#000" text-anchor="start" font-size="9.2" letter-spacing="0.15" >15</text><text transform="translate(1620,814) scale(1,1.0)" fill="#000" text-anchor="start" font-size="9.2" letter-spacing="0.15" >0</text><text transform="translate(4.3,830) scale(1,1.0)" fill="#000" text-anchor="start" font-size="9.2" letter-spacing="0.15" >27 May 2022</text><text transform="translate(68.3,830) scale(1,1.0)" fill="#000" text-anchor="start" font-size="9.2" letter-spacing="0.15" >31 May 01:15</text><text transform="translate(132.3,830) scale(1,1.0)" fill="#000" text-anchor="start" font-size="9.2" letter-spacing="0.15" >2 Jun 01:15</text><text transform="translate(196.3,830) scale(1,1.0)" fill="#000" text-anchor="start" font-size="9.2" letter-spacing="0.15" >7 Jun 01:15</text><text transform="translate(260.3,830) scale(1,1.0)" fill="#000" text-anchor="start" font-size="9.2" letter-spacing="0.15" >9 Jun 01:15</text><text transform="translate(324.3,830) scale(1,1.0)" fill="#000" text-anchor="start" font-size="9.2" letter-spacing="0.15" >13 Jun 01:15</text><text transform="translate(388.3,830) scale(1,1.0)" fill="#000" text-anchor="start" font-size="9.2" letter-spacing="0.15" >15 Jun 01:15</text><text transform="translate(452.3,830) scale(1,1.0)" fill="#000" text-anchor="start" font-size="9.2" letter-spacing="0.15" >17 Jun 01:15</text><text transform="translate(516.3,830) scale(1,1.0)" fill="#000" text-anchor="start" font-size="9.2" letter-spacing="0.15" >21 Jun 01:15</text><text transform="translate(580.3,830) scale(1,1.0)" fill="#000" text-anchor="start" font-size="9.2" letter-spacing="0.15" >23 Jun 01:15</text><text transform="translate(644.3,830) scale(1,1.0)" fill="#000" text-anchor="start" font-size="9.2" letter-spacing="0.15" >27 Jun 01:15</text><text transform="translate(708.3,830) scale(1,1.0)" fill="#000" text-anchor="start" font-size="9.2" letter-spacing="0.15" >29 Jun 01:15</text><text transform="translate(772.3,830) scale(1,1.0)" fill="#000" text-anchor="start" font-size="9.2" letter-spacing="0.15" >4 Jul 01:15</text><text transform="translate(836.3,830) scale(1,1.0)" fill="#000" text-anchor="start" font-size="9.2" letter-spacing="0.15" >6 Jul 01:15</text><text transform="translate(900.3,830) scale(1,1.0)" fill="#000" text-anchor="start" font-size="9.2" letter-spacing="0.15" >8 Jul 01:15</text><text transform="translate(964.3,830) scale(1,1.0)" fill="#000" text-anchor="start" font-size="9.2" letter-spacing="0.15" >12 Jul 01:15</text><text transform="translate(1028.3,830) scale(1,1.0)" fill="#000" text-anchor="start" font-size="9.2" letter-spacing="0.15" >14 Jul 01:15</text><text transform="translate(1092.3,830) scale(1,1.0)" fill="#000" text-anchor="start" font-size="9.2" letter-spacing="0.15" >18 Jul 01:15</text><text transform="translate(1156.3,830) scale(1,1.0)" fill="#000" text-anchor="start" font-size="9.2" letter-spacing="0.15" >20 Jul 01:15</text><text transform="translate(1220.3,830) scale(1,1.0)" fill="#000" text-anchor="start" font-size="9.2" letter-spacing="0.15" >22 Jul 01:15</text><text transform="translate(1284.3,830) scale(1,1.0)" fill="#000" text-anchor="start" font-size="9.2" letter-spacing="0.15" >26 Jul 01:15</text><text transform="translate(20.3,40) scale(1,1.0)" fill="#000" text-anchor="start" font-size="9.2" letter-spacing="0" >HK50-,H4&#160;&#160;20878.0 20970.5 20842.0 20878.5</text></g><rect x="1618" y="363" width="41" height="11" fill="#ff0000"/><text transform="translate(1621.5,372) scale(1,1.0)" fill="#fff" text-anchor="start" font-size="9.2" letter-spacing="0.15" >21180.2</text><rect x="1618" y="404" width="41" height="11" fill="#ff0000"/><text transform="translate(1621.5,413) scale(1,1.0)" fill="#fff" text-anchor="start" font-size="9.2" letter-spacing="0.15" >21025.7</text><rect x="1618" y="444" width="41" height="11" fill="#000000"/><text transform="translate(1621.5,453) scale(1,1.0)" fill="#fff" text-anchor="start" font-size="9.2" letter-spacing="0.15" >20878.5</text><rect x="1618" y="461" width="41" height="11" fill="#ff8c00"/><text transform="translate(1621.5,470) scale(1,1.0)" fill="#fff" text-anchor="start" font-size="9.2" letter-spacing="0.15" >20811.0</text><rect x="1618" y="496" width="41" height="11" fill="#0000ff"/><text transform="translate(1621.5,505) scale(1,1.0)" fill="#fff" text-anchor="start" font-size="9.2" letter-spacing="0.15" >20679.2</text><rect x="1618" y="538" width="41" height="11" fill="#0000ff"/><text transform="translate(1621.5,547) scale(1,1.0)" fill="#fff" text-anchor="start" font-size="9.2" letter-spacing="0.15" >20520.9</text></svg>
</body></html>
